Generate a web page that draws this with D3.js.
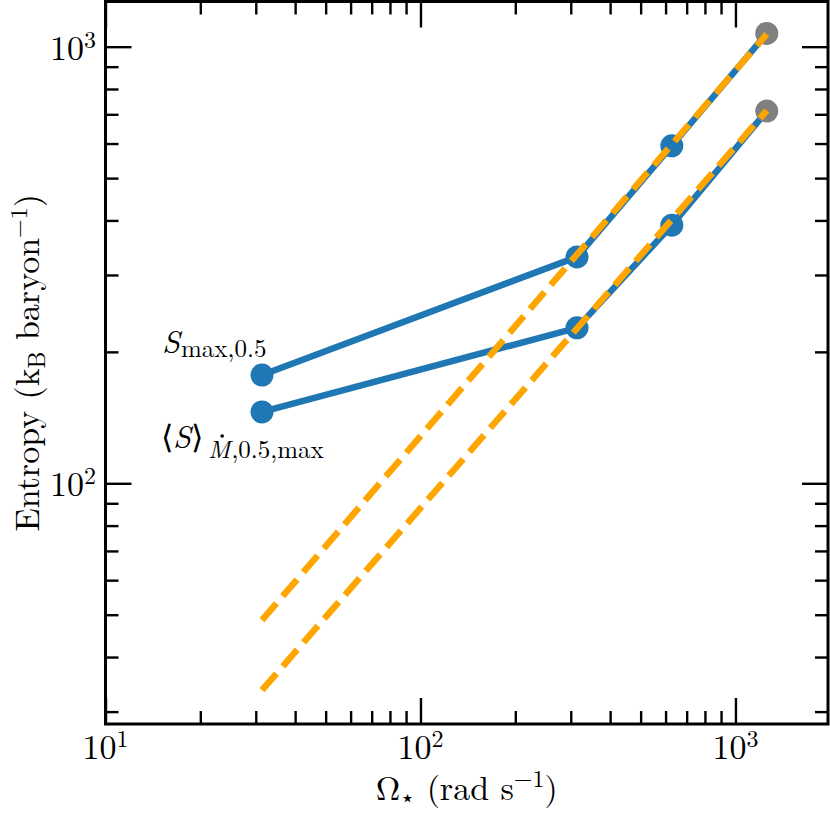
<!DOCTYPE html>
<html><head><meta charset="utf-8">
<script src="https://cdn.jsdelivr.net/npm/d3@7"></script>
<style>
body{margin:0;background:#fff}
</style>
</head><body>
<svg id="c" width="830" height="814"></svg>
<script>
// ---- data ----
const omega = [31.4, 314, 628, 1257];
const sMax = [177, 330, 593, 1072];
const sMean = [145.7, 227, 390, 712];
const pointColors = ["#1f77b4", "#1f77b4", "#1f77b4", "#808080"];
const fitOmega = [31.4, 1257];
const fitMax = [48.6, 1068];
const fitMean = [33.6, 714];
const xMajor = [10, 100, 1000];
const xMajorExp = ["1", "2", "3"];
const yMajor = [100, 1000];
const yMajorExp = ["2", "3"];
const xMinor = [20,30,40,50,60,70,80,90,200,300,400,500,600,700,800,900];
const yMinor = [30,40,50,60,70,80,90,200,300,400,500,600,700,800,900];

const FONT = "'CMU Serif', 'Latin Modern Roman', 'Liberation Serif', serif";

// ---- layout ----
const L = 105.5, R = 828, T = 1.5, B = 724;
const svg = d3.select("#c");
const x = d3.scaleLog().domain([10, 1967]).range([L, R]);
const y = d3.scaleLog().domain([28.1, 1269]).range([B, T]);

function txt(xp, yp, size) {
  return svg.append("text").attr("x", xp).attr("y", yp)
    .style("font-family", FONT).style("font-size", size + "px").attr("fill", "#000");
}

// ticks (inward on all sides)
function axisG(axisFn, scale, vals, size, tx, ty) {
  const g = svg.append("g").attr("transform", `translate(${tx},${ty})`)
    .call(axisFn(scale).tickValues(vals).tickSize(-size).tickFormat(""));
  g.select(".domain").remove();
  g.selectAll(".tick line").attr("stroke", "#000").attr("stroke-width", 2.4);
  return g;
}
axisG(d3.axisBottom, x, xMajor, 26, 0, B);
axisG(d3.axisBottom, x, xMinor, 13, 0, B);
axisG(d3.axisTop, x, xMajor, 26, 0, T);
axisG(d3.axisTop, x, xMinor, 13, 0, T);
axisG(d3.axisLeft, y, yMajor, 26, L, 0);
axisG(d3.axisLeft, y, yMinor, 13, L, 0);
axisG(d3.axisRight, y, yMajor, 26, R, 0);
axisG(d3.axisRight, y, yMinor, 13, R, 0);

// frame
svg.append("rect").attr("x", L).attr("y", T).attr("width", R - L).attr("height", B - T)
  .attr("fill", "none").attr("stroke", "#000").attr("stroke-width", 3);

// tick labels
xMajor.forEach((v, i) => {
  const t = txt(x(v), 759, 34).attr("text-anchor", "middle");
  t.append("tspan").text("10");
  t.append("tspan").attr("dy", -12).style("font-size", "24px").text(xMajorExp[i]);
});
yMajor.forEach((v, i) => {
  const t = txt(96, y(v) + 13, 34).attr("text-anchor", "end");
  t.append("tspan").text("10");
  t.append("tspan").attr("dy", -12).style("font-size", "24px").text(yMajorExp[i]);
});

// axis labels
const xl = txt((L + R) / 2, 800, 34).attr("text-anchor", "middle");
xl.append("tspan").text("Ω");
xl.append("tspan").attr("dy", 6).style("font-size", "24px").text("⋆");
xl.append("tspan").attr("dy", -6).text(" (rad s");
xl.append("tspan").attr("dy", -13).style("font-size", "24px").text("−1");
xl.append("tspan").attr("dy", 13).text(")");

const yl = txt(0, 0, 34).attr("transform", `translate(39,${(T + B) / 2}) rotate(-90)`)
  .attr("text-anchor", "middle");
yl.append("tspan").text("Entropy (k");
yl.append("tspan").attr("dy", 6).style("font-size", "24px").text("B");
yl.append("tspan").attr("dy", -6).text(" baryon");
yl.append("tspan").attr("dy", -12).style("font-size", "24px").text("−1");
yl.append("tspan").attr("dy", 12).text(")");

// data lines
const line = d3.line().x(d => x(d[0])).y(d => y(d[1]));
const series = [sMax, sMean];
series.forEach(s => {
  svg.append("path").datum(omega.map((o, i) => [o, s[i]]))
    .attr("d", line).attr("fill", "none").attr("stroke", "#1f77b4")
    .attr("stroke-width", 6.5).attr("stroke-linejoin", "round");
  svg.selectAll(null).data(omega.map((o, i) => [o, s[i], pointColors[i]])).enter()
    .append("circle").attr("cx", d => x(d[0])).attr("cy", d => y(d[1]))
    .attr("r", 11.5).attr("fill", d => d[2]);
});

// fit lines
[fitMax, fitMean].forEach(f => {
  svg.append("path").datum(fitOmega.map((o, i) => [o, f[i]]))
    .attr("d", line).attr("fill", "none").attr("stroke", "#FFA500")
    .attr("stroke-width", 6.5).attr("stroke-dasharray", "22,9.6");
});

// annotations
const a1 = txt(162, 353, 32);
a1.append("tspan").style("font-style", "italic").text("S");
a1.append("tspan").attr("dx", 1).attr("dy", 4).style("font-size", "25px").text("max,0.5");

const a2 = txt(161, 448, 32);
a2.append("tspan").text("⟨");
a2.append("tspan").style("font-style", "italic").text("S");
a2.append("tspan").text("⟩");
a2.append("tspan").attr("dx", 5).attr("dy", 10).style("font-size", "25px").style("font-style", "italic").text("M");
a2.append("tspan").attr("dx", 1).style("font-size", "25px").text(",0.5,max");
// dot accent over the M
let mx = 220, my = 439;
try {
  const ext = a2.node().getExtentOfChar(3);
  mx = ext.x + ext.width / 2 + 3;
  my = ext.y + 6;
} catch (e) {}
svg.append("circle").attr("cx", mx).attr("cy", my).attr("r", 1.8).attr("fill", "#000");
</script>
</body></html>
